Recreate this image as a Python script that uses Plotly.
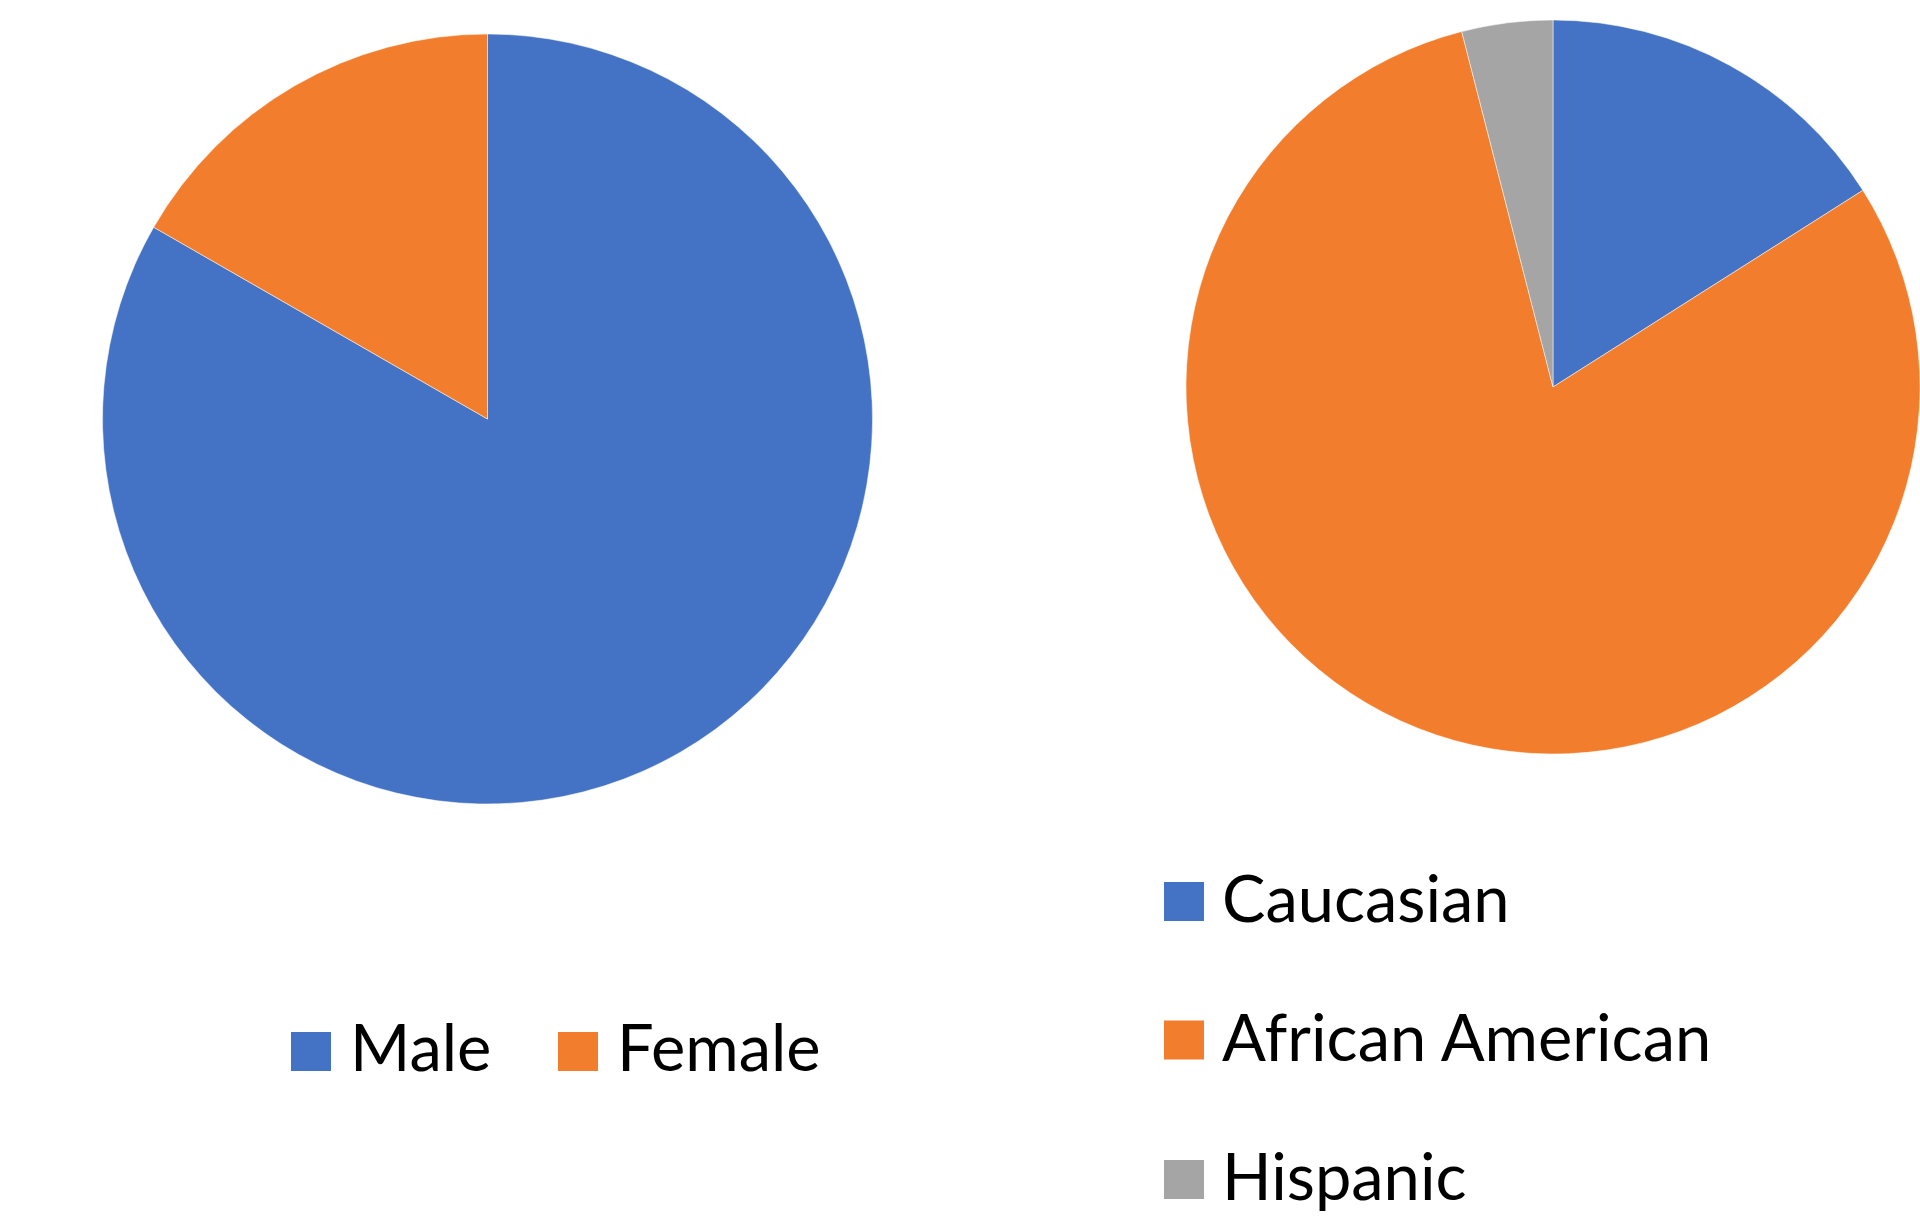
import plotly.graph_objects as go

W, H = 1920, 1218

gender_labels = ["Male", "Female"]
gender_values = [83.3, 16.7]
gender_colors = ["#4472C4", "#F27D2C"]

race_labels = ["Caucasian", "African American", "Hispanic"]
race_values = [16, 80, 4]
race_colors = ["#4472C4", "#F27D2C", "#A5A5A5"]

FONT = "Lato"
FSIZE = 65


def px(x):
    return x / W


def py(y):
    return 1 - y / H


fig = go.Figure()

fig.add_trace(go.Pie(
    labels=gender_labels, values=gender_values, sort=False, direction="clockwise",
    rotation=0, textinfo="none", hoverinfo="label+percent", showlegend=False,
    marker=dict(colors=gender_colors, line=dict(color="rgba(255,255,255,0.5)", width=1)),
    domain=dict(x=[px(102), px(873)], y=[py(804), py(34)]),
))

fig.add_trace(go.Pie(
    labels=race_labels, values=race_values, sort=False, direction="clockwise",
    rotation=0, textinfo="none", hoverinfo="label+percent", showlegend=False,
    marker=dict(colors=race_colors, line=dict(color="rgba(255,255,255,0.5)", width=1)),
    domain=dict(x=[px(1186), px(1920)], y=[py(754), py(20)]),
))

shapes = []
annotations = []

# left legend (horizontal)
left_sq_x = [291, 558]
left_txt_x = [348, 615]
left_sq_cy = 1051.5
left_txt_cy = 1046
for lab, col, sx, tx in zip(gender_labels, gender_colors, left_sq_x, left_txt_x):
    shapes.append(dict(type="rect", xref="paper", yref="paper",
                       x0=px(sx), x1=px(sx + 40), y0=py(left_sq_cy + 19.5), y1=py(left_sq_cy - 19.5),
                       fillcolor=col, line=dict(width=0)))
    annotations.append(dict(text=lab, xref="paper", yref="paper", x=px(tx), y=py(left_txt_cy),
                            xanchor="left", yanchor="middle", showarrow=False,
                            font=dict(family=FONT, size=FSIZE, color="#000000")))

# right legend (vertical)
right_sq_cy = [901.5, 1040, 1179.5]
for lab, col, cy in zip(race_labels, race_colors, right_sq_cy):
    shapes.append(dict(type="rect", xref="paper", yref="paper",
                       x0=px(1164), x1=px(1204), y0=py(cy + 19.5), y1=py(cy - 19.5),
                       fillcolor=col, line=dict(width=0)))
    annotations.append(dict(text=lab, xref="paper", yref="paper", x=px(1220), y=py(cy - 4.5),
                            xanchor="left", yanchor="middle", showarrow=False,
                            font=dict(family=FONT, size=FSIZE, color="#000000")))

fig.update_layout(
    width=W, height=H,
    margin=dict(l=0, r=0, t=0, b=0),
    paper_bgcolor="white", plot_bgcolor="white",
    shapes=shapes, annotations=annotations,
)

fig.write_html("out.html")
